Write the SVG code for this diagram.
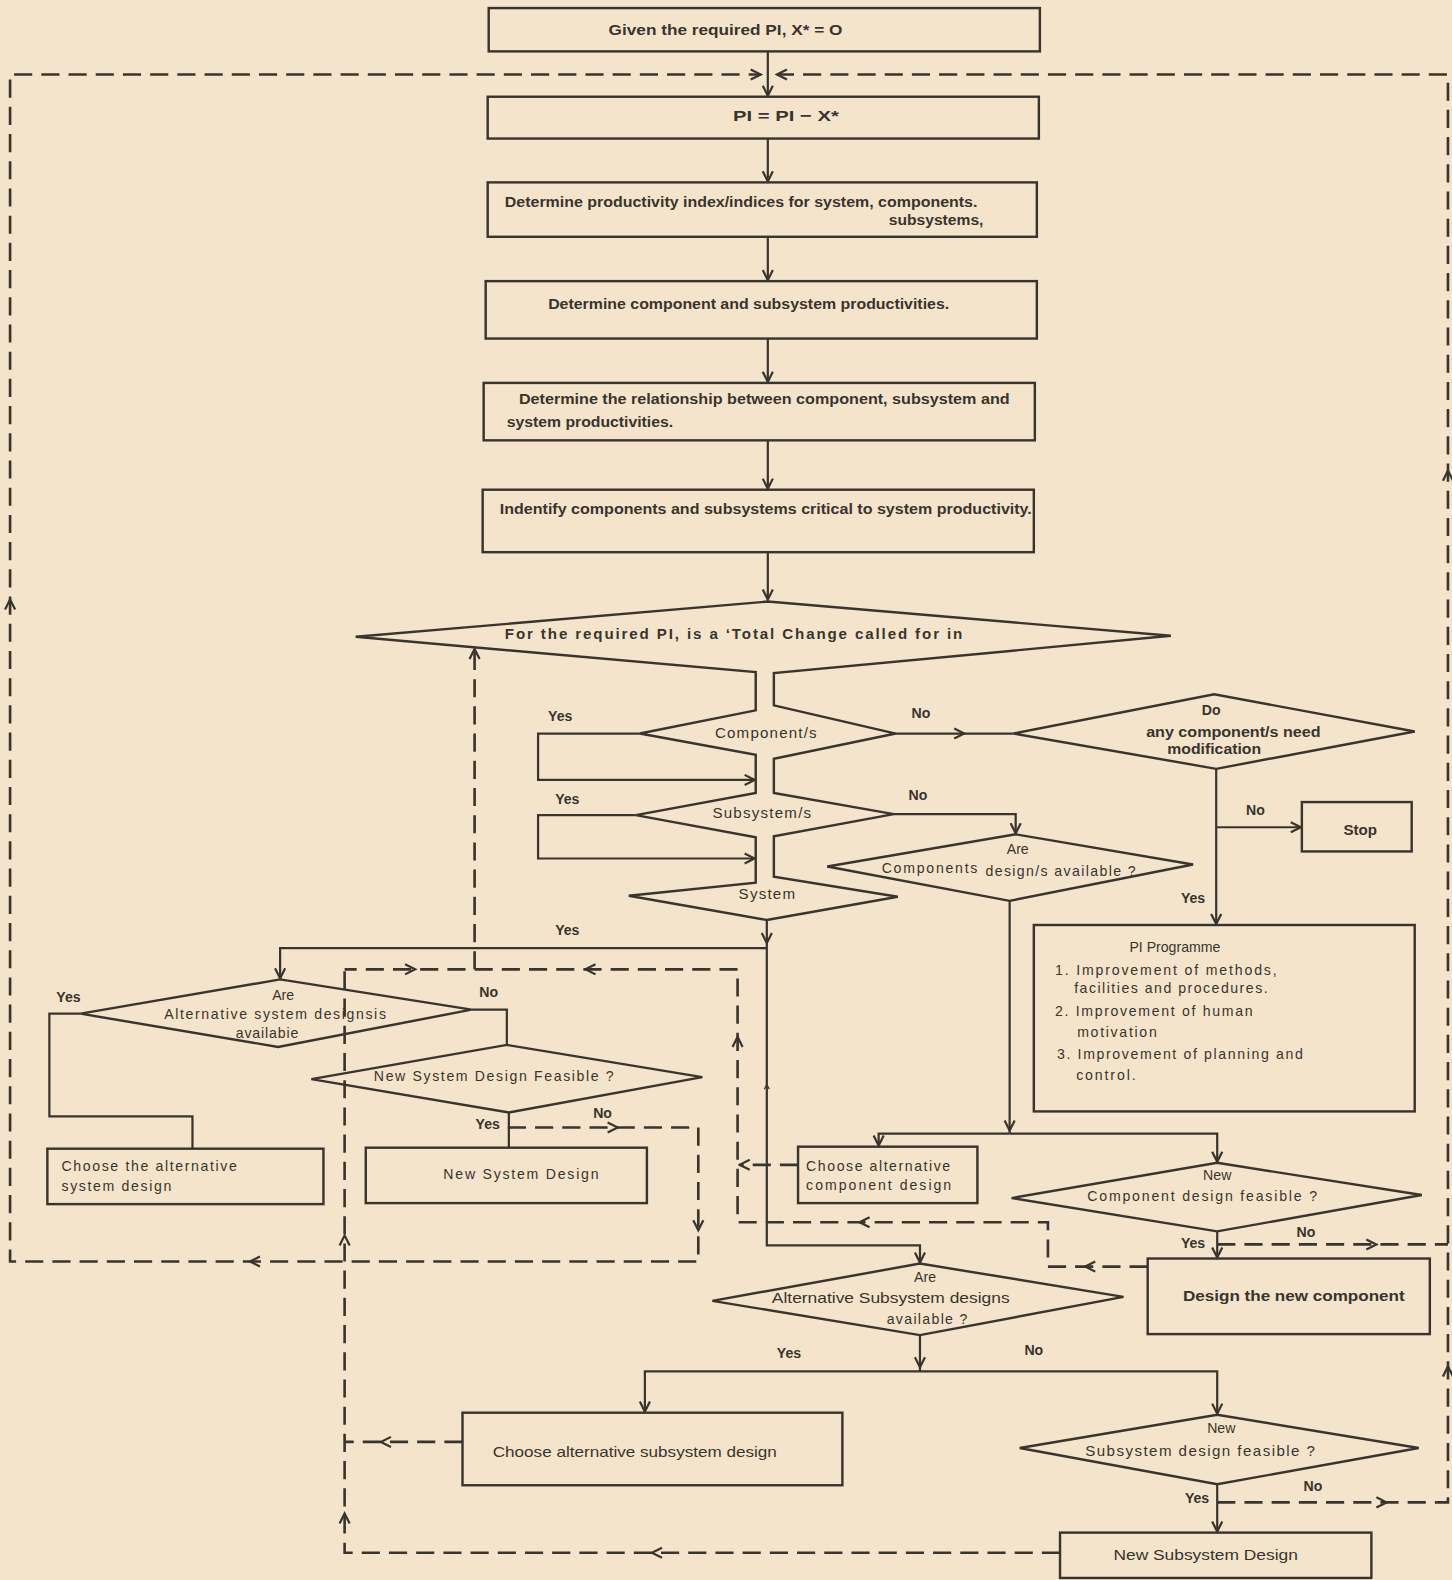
<svg xmlns="http://www.w3.org/2000/svg" xmlns:xlink="http://www.w3.org/1999/xlink" width="1452" height="1580" viewBox="0 0 1452 1580">
<style>
.box{fill:none;stroke:#3a342e;stroke-width:2.4}
.ln{fill:none;stroke:#3a342e;stroke-width:2.2}
.dash{fill:none;stroke:#3a342e;stroke-width:2.6;stroke-dasharray:18 9}
.ah{fill:none;stroke:#3a342e;stroke-width:2.2;stroke-dasharray:none}
.t{font-family:"Liberation Sans",Arial,sans-serif;font-size:14px;fill:#3a342e;font-weight:bold}
.b{font-size:15px}
.n{font-weight:normal}
.m{text-anchor:middle}
</style>
<defs>
<marker id="arr" markerWidth="14" markerHeight="14" refX="12" refY="7" orient="auto" markerUnits="userSpaceOnUse"><path class="ah" d="M2,2 L12,7 L2,12"/></marker>
<path id="chev" class="ah" d="M-10,-5 L0,0 L-10,5"/>
</defs>
<rect width="1452" height="1580" fill="#f3e4cb"/>
<g transform="scale(1.00763)">
<g id="connectors">
<path class="ln" marker-end="url(#arr)" d="M762,51 V95"/>
<path class="ln" marker-end="url(#arr)" d="M762,137.5 V180"/>
<path class="ln" marker-end="url(#arr)" d="M762,235 V278"/>
<path class="ln" marker-end="url(#arr)" d="M762,336 V379"/>
<path class="ln" marker-end="url(#arr)" d="M762,437 V485"/>
<path class="ln" marker-end="url(#arr)" d="M762,548 V595"/>
<path class="ln" marker-end="url(#arr)" d="M635,728 H534 V774 H749"/>
<path class="ln" marker-end="url(#arr)" d="M631,809 H534 V852 H749"/>
<path class="ln" d="M889,728 H1006"/>
<use href="#chev" transform="translate(957,728)"/>
<path class="ln" marker-end="url(#arr)" d="M887,808 H1008 V827"/>
<path class="ln" marker-end="url(#arr)" d="M1207,763 V917"/>
<path class="ln" marker-end="url(#arr)" d="M1207,821 H1291"/>
<path class="ln" d="M1002,894 V1125"/>
<use href="#chev" transform="translate(1002,1122) rotate(90)"/>
<path class="ln" marker-end="url(#arr)" d="M1002,1125 H872 V1137"/>
<path class="ln" marker-end="url(#arr)" d="M1002,1125 H1208 V1153"/>
<path class="ln" marker-end="url(#arr)" d="M1208,1222 V1248"/>
<path class="ln" marker-end="url(#arr)" d="M761,913 V1236 H913 V1253"/>
<use href="#chev" transform="translate(761,936) rotate(90)"/>
<use href="#chev" transform="translate(761,1076) rotate(-90) scale(0.5)"/>
<path class="ln" marker-end="url(#arr)" d="M761,941 H278 V971"/>
<path class="ln" d="M80,1006 H49 V1108 H191 V1140"/>
<path class="ln" d="M468,1002 H503 V1037"/>
<path class="ln" d="M505,1104 V1139"/>
<path class="ln" d="M913,1325 V1361"/>
<use href="#chev" transform="translate(913,1357) rotate(90)"/>
<path class="ln" marker-end="url(#arr)" d="M913,1361 H640 V1401"/>
<path class="ln" marker-end="url(#arr)" d="M913,1361 H1208 V1403"/>
<path class="ln" marker-end="url(#arr)" d="M1208,1473 V1520"/>
<path class="dash" marker-end="url(#arr)" d="M1208,1491 H1437 V74 H771"/>
<use href="#chev" transform="translate(1376,1491)"/>
<use href="#chev" transform="translate(1437,1356) rotate(-90)"/>
<use href="#chev" transform="translate(1437,467) rotate(-90)"/>
<path class="dash" d="M1208,1235 H1437"/>
<use href="#chev" transform="translate(1366,1235)"/>
<path class="dash" marker-end="url(#arr)" d="M504,1119 H693 V1252 H10 V74 H755"/>
<use href="#chev" transform="translate(613,1119)"/>
<use href="#chev" transform="translate(693,1221) rotate(90)"/>
<use href="#chev" transform="translate(248,1252) rotate(180)"/>
<use href="#chev" transform="translate(10,595) rotate(-90)"/>
<path class="dash" d="M1139,1257 H1040 V1213 H732 V962 H342"/>
<use href="#chev" transform="translate(1077,1257) rotate(180)"/>
<use href="#chev" transform="translate(853,1213) rotate(180)"/>
<use href="#chev" transform="translate(732,1029) rotate(-90)"/>
<use href="#chev" transform="translate(581,962) rotate(180)"/>
<use href="#chev" transform="translate(412,962)"/>
<path class="dash" d="M1052,1541 H342 V962"/>
<use href="#chev" transform="translate(647,1541) rotate(180)"/>
<use href="#chev" transform="translate(342,1502) rotate(-90)"/>
<use href="#chev" transform="translate(342,1226) rotate(-90)"/>
<path class="dash" d="M459,1431 H342"/>
<use href="#chev" transform="translate(378,1431) rotate(180)"/>
<path class="dash" marker-end="url(#arr)" d="M792,1156 H734"/>
<path class="dash" marker-end="url(#arr)" d="M471,962 V644"/>
</g>
<g id="n-given"><rect class="box" x="485" y="8" width="547" height="43"/><text class="t b m" x="720" y="35" textLength="232" lengthAdjust="spacingAndGlyphs">Given the required PI, X* = O</text></g>
<g id="n-pi"><rect class="box" x="484" y="96" width="547" height="41.5"/><text class="t b m" x="780" y="120" textLength="105" lengthAdjust="spacingAndGlyphs">PI = PI − X*</text></g>
<g id="n-indices"><rect class="box" x="484" y="181" width="545" height="54"/><text class="t b" x="501" y="205" textLength="469" lengthAdjust="spacingAndGlyphs">Determine productivity index/indices for system, components.</text><text class="t b" x="882" y="223" textLength="94" lengthAdjust="spacingAndGlyphs">subsystems,</text></g>
<g id="n-productivities"><rect class="box" x="482" y="279" width="547" height="57"/><text class="t b" x="544" y="307" textLength="398" lengthAdjust="spacingAndGlyphs">Determine component and subsystem productivities.</text></g>
<g id="n-relationship"><rect class="box" x="480" y="380" width="547" height="57"/><text class="t b" x="515" y="401" textLength="487" lengthAdjust="spacingAndGlyphs">Determine the relationship between component, subsystem and</text><text class="t b" x="503" y="424" textLength="165" lengthAdjust="spacingAndGlyphs">system productivities.</text></g>
<g id="n-identify"><rect class="box" x="479" y="486" width="547" height="62"/><text class="t b" x="496" y="510" textLength="528" lengthAdjust="spacingAndGlyphs">Indentify components and subsystems critical to system productivity.</text></g>
<g id="n-total-change"><path class="box" d="M353,632 L762,597 L1162,631 L768,668 L768,700 L889,728 L768,753 L768,787 L887,808 L768,830 L768,870 L891,890 L761,913 L624,889 L750,876 L750,831 L631,809 L750,787 L750,749 L635,728 L750,705 L750,667 Z"/><text class="t b" x="501" y="634" textLength="454">For the required PI, is a ‘Total Change  called for in</text></g>
<g id="n-components"><text class="t n b m" x="760" y="732" textLength="101">Component/s</text></g>
<g id="n-subsystems"><text class="t n b m" x="756" y="812" textLength="98">Subsystem/s</text></g>
<g id="n-system"><text class="t n b m" x="761" y="892" textLength="56">System</text></g>
<g id="n-do"><path class="box" d="M1006,728 L1205,689 L1404,726 L1207,763 Z"/><text class="t m" x="1202" y="710">Do</text><text class="t m" x="1224" y="731" textLength="173" lengthAdjust="spacingAndGlyphs">any component/s need</text><text class="t m" x="1205" y="748" textLength="93" lengthAdjust="spacingAndGlyphs">modification</text></g>
<g id="n-stop"><rect class="box" x="1292" y="796" width="109" height="49"/><text class="t b m" x="1350" y="829">Stop</text></g>
<g id="n-are-components"><path class="box" d="M821,860 L1008,828 L1184,858 L1002,894 Z"/><text class="t n m" x="1010" y="848">Are</text><text class="t n" x="875" y="866" textLength="95">Components</text><text class="t n" x="978" y="869" textLength="149">design/s available ?</text></g>
<g id="n-pi-programme"><rect class="box" x="1026" y="918" width="378" height="185"/><text class="t n m" x="1166" y="945">PI Programme</text><text class="t n" x="1047" y="968" textLength="220">1. Improvement of methods,</text><text class="t n" x="1066" y="985" textLength="192">facilities and procedures.</text><text class="t n" x="1047" y="1008" textLength="196">2. Improvement of human</text><text class="t n" x="1069" y="1029" textLength="79">motivation</text><text class="t n" x="1049" y="1051" textLength="244">3. Improvement of planning and</text><text class="t n" x="1068" y="1072" textLength="59">control.</text></g>
<g id="n-alt-system"><path class="box" d="M80,1006 L278,972 L468,1002 L276,1039 Z"/><text class="t n m" x="281" y="992">Are</text><text class="t n m" x="273" y="1011" textLength="220">Alternative system designsis</text><text class="t n m" x="265" y="1030" textLength="62">availabie</text></g>
<g id="n-new-system-feasible"><path class="box" d="M309,1071 L503,1037 L697,1069 L505,1104 Z"/><text class="t n m" x="490" y="1073" textLength="238">New System Design Feasible ?</text></g>
<g id="n-choose-alt-system"><rect class="box" x="47" y="1140" width="274" height="55"/><text class="t n" x="61" y="1162" textLength="174">Choose the alternative</text><text class="t n" x="61" y="1182" textLength="109">system design</text></g>
<g id="n-new-system-design"><rect class="box" x="363" y="1139" width="279" height="55"/><text class="t n m" x="517" y="1170" textLength="154">New System Design</text></g>
<g id="n-choose-alt-component"><rect class="box" x="792" y="1138" width="178" height="56"/><text class="t n" x="800" y="1162" textLength="143">Choose alternative</text><text class="t n" x="800" y="1181" textLength="144">component design</text></g>
<g id="n-new-component-feasible"><path class="box" d="M1004,1189 L1208,1154 L1411,1186 L1208,1222 Z"/><text class="t n m" x="1208" y="1171">New</text><text class="t n m" x="1193" y="1192" textLength="228">Component design  feasible ?</text></g>
<g id="n-design-new-component"><rect class="box" x="1139" y="1249" width="280" height="75"/><text class="t b" x="1174" y="1291" textLength="220" lengthAdjust="spacingAndGlyphs">Design the new   component</text></g>
<g id="n-alt-subsystem"><path class="box" d="M707,1291 L913,1254 L1115,1287 L913,1325 Z"/><text class="t n m" x="918" y="1272">Are</text><text class="t n b m" x="884" y="1293" textLength="236" lengthAdjust="spacingAndGlyphs">Alternative Subsystem designs</text><text class="t n m" x="920" y="1314" textLength="80">available ?</text></g>
<g id="n-choose-alt-subsystem"><rect class="box" x="459" y="1402" width="377" height="72"/><text class="t n b" x="489" y="1446" textLength="282" lengthAdjust="spacingAndGlyphs">Choose alternative subsystem design</text></g>
<g id="n-new-subsystem-feasible"><path class="box" d="M1012,1437 L1208,1404 L1408,1437 L1208,1473 Z"/><text class="t n m" x="1212" y="1422">New</text><text class="t n b" x="1077" y="1445" textLength="228">Subsystem design   feasible ?</text></g>
<g id="n-new-subsystem-design"><rect class="box" x="1052" y="1521" width="309" height="45"/><text class="t n b" x="1105" y="1548" textLength="183" lengthAdjust="spacingAndGlyphs">New Subsystem  Design</text></g>
<g id="labels">
<text class="t m" x="556" y="716">Yes</text>
<text class="t m" x="563" y="798">Yes</text>
<text class="t m" x="563" y="928">Yes</text>
<text class="t m" x="68" y="994">Yes</text>
<text class="t m" x="484" y="1120">Yes</text>
<text class="t m" x="1184" y="896">Yes</text>
<text class="t m" x="1184" y="1239">Yes</text>
<text class="t m" x="783" y="1348">Yes</text>
<text class="t m" x="1188" y="1492">Yes</text>
<text class="t m" x="914" y="713">No</text>
<text class="t m" x="911" y="794">No</text>
<text class="t m" x="1246" y="809">No</text>
<text class="t m" x="485" y="989">No</text>
<text class="t m" x="598" y="1110">No</text>
<text class="t m" x="1296" y="1228">No</text>
<text class="t m" x="1026" y="1345">No</text>
<text class="t m" x="1303" y="1480">No</text>
</g>
</g>
</svg>
